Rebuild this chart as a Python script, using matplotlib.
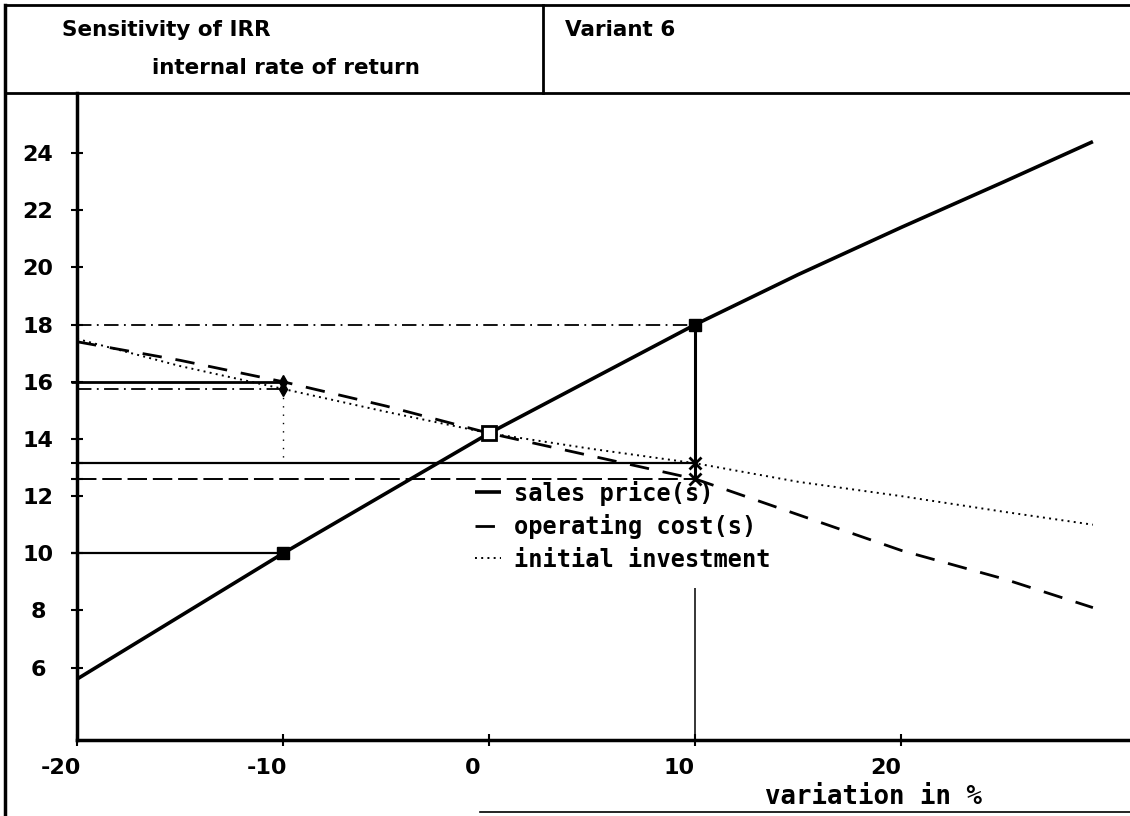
import matplotlib
matplotlib.use("Agg")
import matplotlib.pyplot as plt
import matplotlib.transforms as mtransforms
from matplotlib.lines import Line2D

# ------------ DATA ----------------------------------------
variation = [-20, -15, -10, -5, 0, 5, 10, 15, 20, 25, 29.3]
sales_price = [5.6, 7.8, 10.0, 12.1, 14.2, 16.1, 18.0, 19.75, 21.4, 23.0, 24.4]
operating_cost = [17.4, 16.75, 16.0, 15.15, 14.2, 13.4, 12.6, 11.35, 10.1, 9.1, 8.1]
initial_investment = [17.5, 16.55, 15.75, 14.95, 14.2, 13.65, 13.15, 12.5, 12.0, 11.45, 11.0]

x_ticks = [-20, -10, 0, 10, 20]
x_ticklabels = ['-20', '-10', '0', '10', '20']
y_ticks = [6, 8, 10, 12, 14, 16, 18, 20, 22, 24]

legend_labels = ['sales price(s)', 'operating cost(s)', 'initial investment']
title_left = ['Sensitivity of IRR', 'internal rate of return']
title_right = 'Variant 6'
x_label = 'variation in %'

# ------------ FIGURE -----------------
W, H = 1130, 816
fig = plt.figure(figsize=(W / 100, H / 100), dpi=100)
fig.patch.set_facecolor('white')

ax_left, ax_top, ax_bottom = 77, 93, 740
ax = fig.add_axes([ax_left / W, 1 - ax_bottom / H,
                   1 - ax_left / W, (ax_bottom - ax_top) / H])
y_low, y_high = 3.47, 26.1
ax.set_xlim(-20, 31.1)
ax.set_ylim(y_low, y_high)

for side in ['top', 'right']:
    ax.spines[side].set_visible(False)
for side in ['left', 'bottom']:
    ax.spines[side].set_linewidth(2.5)

mono = 'DejaVu Sans Mono'

# curves
ax.plot(variation, sales_price, color='black', lw=2.6, solid_capstyle='butt',
        label=legend_labels[0], zorder=4)
ax.plot(variation, operating_cost, color='black', lw=2.0,
        dashes=(7, 5), label=legend_labels[1], zorder=4)
ax.plot(variation, initial_investment, color='black', lw=1.4,
        dashes=(1, 2.2), label=legend_labels[2], zorder=4)

# reference lines for -10 % and +10 %
i_m10 = variation.index(-10)
i_0 = variation.index(0)
i_p10 = variation.index(10)
xmin = -20
ax.hlines(sales_price[i_p10], xmin, 10, color='black', lw=1.3,
          linestyles=(0, (8, 3, 1, 3)))
ax.hlines(operating_cost[i_m10], xmin - 0.3, -10, color='black', lw=2.0,
          clip_on=False)
ax.hlines(initial_investment[i_m10], xmin, -10, color='black', lw=1.3,
          linestyles=(0, (8, 3, 1, 3)))
ax.hlines(initial_investment[i_p10], xmin, 10, color='black', lw=1.6)
ax.hlines(operating_cost[i_p10], xmin, 10, color='black', lw=1.4,
          linestyles=(0, (10, 3)))
ax.hlines(sales_price[i_m10], xmin - 0.3, -10, color='black', lw=1.6,
          clip_on=False)

ax.vlines(-10, initial_investment[i_m10], initial_investment[i_p10],
          color='black', lw=1.0, linestyles=(0, (1, 5)))
ax.vlines(10, operating_cost[i_p10], sales_price[i_p10],
          color='black', lw=2.2)
# lower part of the +10 % drop line, it stops under the legend
ax.vlines(10, y_low, 8.8, color='black', lw=1.1)

# markers
ax.plot([-10, 10], [sales_price[i_m10], sales_price[i_p10]], 's',
        color='black', ms=8, zorder=5)
ax.plot([0], [sales_price[i_0]], 's', mfc='white', mec='black', mew=2,
        ms=10, zorder=5)
ax.plot([-10, -10], [operating_cost[i_m10], initial_investment[i_m10]], 'd',
        color='black', ms=7, zorder=5)
ax.plot([10, 10], [operating_cost[i_p10], initial_investment[i_p10]], 'x',
        color='black', ms=8, mew=2, zorder=5)

# ticks
ax.set_xticks(x_ticks)
ax.set_xticklabels(x_ticklabels, fontsize=16, fontweight='bold')
ax.set_yticks(y_ticks)
ax.set_yticklabels([str(v) for v in y_ticks], fontsize=16, fontweight='bold')
ax.set_yticks([operating_cost[i_p10], initial_investment[i_p10]], minor=True)
ax.tick_params(axis='both', which='both', direction='inout', length=8,
               width=1.5, color='black')
ax.tick_params(axis='x', pad=9)
ax.tick_params(axis='y', pad=24)
shift = mtransforms.ScaledTranslation(-0.16, 0, fig.dpi_scale_trans)
for lab in ax.get_xticklabels():
    lab.set_transform(lab.get_transform() + shift)
for lab in ax.get_yticklabels():
    lab.set_horizontalalignment('center')

ax.text(765, H - 797, x_label, transform=None, fontsize=18.5,
        fontweight='bold', family=mono, va='center', ha='left')

leg = ax.legend(loc='upper left',
                bbox_to_anchor=((470 - ax_left) / (W - ax_left),
                                1 - (476 - ax_top) / (ax_bottom - ax_top)),
                prop={'family': mono, 'weight': 'bold', 'size': 17},
                handlelength=1.1, handletextpad=0.55, labelspacing=0.36,
                borderpad=0.2, borderaxespad=0, frameon=False)
leg.set_zorder(6)

# ------------ HEADER / FRAME -----------------
def fline(x0, y0, x1, y1, lw):
    fig.add_artist(Line2D([x0 / W, x1 / W], [1 - y0 / H, 1 - y1 / H],
                          color='black', lw=lw, transform=fig.transFigure))

fline(5, 5, W, 5, 2.0)
fline(5, 93, W, 93, 2.0)
fline(5, 5, 5, H, 2.5)
fline(543, 5, 543, 93, 2.0)
fline(480, 812, W, 812, 1.2)

head_font = dict(fontsize=15.5, fontweight='bold', family='DejaVu Sans',
                 va='center')
fig.text(62 / W, 1 - 30 / H, title_left[0], **head_font)
fig.text(152 / W, 1 - 68 / H, title_left[1], **head_font)
fig.text(565 / W, 1 - 30 / H, title_right, **head_font)

fig.savefig('out.png', dpi=100)
